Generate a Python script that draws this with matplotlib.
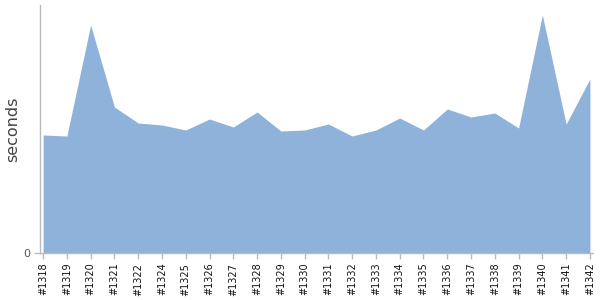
import matplotlib
matplotlib.use("Agg")
import matplotlib.pyplot as plt
import numpy as np

builds = ["#1318", "#1319", "#1320", "#1321", "#1322", "#1324", "#1325", "#1326",
          "#1327", "#1328", "#1329", "#1330", "#1331", "#1332", "#1333", "#1334",
          "#1335", "#1336", "#1337", "#1338", "#1339", "#1340", "#1341", "#1342"]
durations = [118, 117, 228, 146, 130, 128, 123, 134, 126, 141, 122, 123,
             129, 117, 123, 135, 123, 144, 136, 140, 125, 238, 129, 174]

fig = plt.figure(figsize=(6, 3), dpi=100)
ax = fig.add_axes([40 / 600, 47 / 300, 553 / 600, 248 / 300])

x = np.arange(len(builds))
ax.fill_between(x, 0, durations, color="#8fb2da", linewidth=0)

ax.set_xlim(-0.13, len(builds) - 1 + 0.13)
ax.set_ylim(0, 248)
ax.set_xticks(x)
ax.set_xticklabels(builds, rotation=90, fontsize=7, color="#111111")
ax.set_yticks([0])
ax.set_yticklabels(["0"], fontsize=8, color="#555555")
ax.set_ylabel("seconds", fontsize=11.5, color="#444444")
ax.yaxis.set_label_coords(-0.035, 0.5)

for side in ["top", "right"]:
    ax.spines[side].set_visible(False)
for side in ["left", "bottom"]:
    ax.spines[side].set_color("#bbbbbb")
    ax.spines[side].set_linewidth(1)
ax.tick_params(axis="both", color="#bbbbbb", length=4, width=1, pad=3)

fig.savefig("out.png", dpi=100)
